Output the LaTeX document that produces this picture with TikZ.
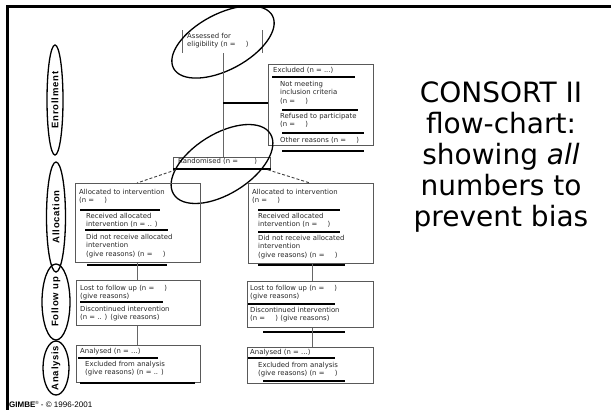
\documentclass[tikz,border=0pt]{standalone}
\usepackage{fontspec}
\usetikzlibrary{shapes.geometric}
\setmainfont{DejaVu Sans}
\newfontfamily\chartfont{DejaVu Sans}
\newfontfamily\sidefont[LetterSpace=8]{Liberation Sans}
\newfontfamily\footfont{Liberation Sans}
\newfontfamily\titlefont{DejaVu Sans}
\begin{document}
\begin{tikzpicture}[x=1pt,y=-1pt,
  frameline/.style={line width=3pt},
  box/.style={draw=black!65, line width=0.8pt, inner sep=0pt, anchor=north west},
  uline/.style={line width=1.8pt},
  conn/.style={draw=black!60, line width=0.9pt},
  dconn/.style={draw=black!75, line width=0.9pt, dashed, dash pattern=on 3pt off 2pt},
  lab/.style={font=\chartfont\fontsize{6.9}{8.4}\selectfont, anchor=north west, inner sep=0pt, align=left, text=black!85},
  sideell/.style={ellipse, draw, line width=1.3pt, inner sep=0pt},
  sidelab/.style={rotate=90, font=\sidefont\bfseries\fontsize{9.5}{9.5}\selectfont, inner sep=0pt},
  bigell/.style={ellipse, draw, line width=1.3pt, inner sep=0pt}
]
\useasboundingbox (0,0) rectangle (611,410);
% frame
\draw[frameline] (611,6.5) -- (7,6.5) -- (7,410);

% side ellipses
\node[sideell, minimum width=16pt, minimum height=110pt] (enr) at (55,100) {};
\node[sidelab] (enrt) at (enr.center) {Enrollment};
\node[sideell, minimum width=19pt, minimum height=110pt] (alo) at (56,217) {};
\node[sidelab] (alot) at (alo.center) {Allocation};
\node[sideell, minimum width=28pt, minimum height=76pt] (fol) at (56,302) {};
\node[sidelab] (folt) at (fol.center) {Follow up};
\node[sideell, minimum width=26pt, minimum height=54pt] (ana) at (56,368) {};
\node[sidelab] (anat) at (ana.center) {Analysis};

% assessed
\coordinate (assL1) at (182,30); \coordinate (assL2) at (182,53);
\coordinate (assR1) at (262,30); \coordinate (assR2) at (262,53);
\draw[conn] (assL1) -- (assL2);
\draw[conn] (assR1) -- (assR2);
\node[lab] (asst) at (187,33) {Assessed for\\eligibility (n = \hspace{8pt})};
\coordinate (assB) at (223,53);
\node[bigell, minimum width=112pt, minimum height=56pt, rotate=28] (assell) at (223,42) {};

% excluded
\node[box, minimum width=105pt, minimum height=81pt] (exc) at (268,64) {};
\node[lab] (exc1) at (273,67) {Excluded (n = ...)};
\draw[uline] (272,77) -- (355,77);
\node[lab] (exc2) at (280,81) {Not meeting\\inclusion criteria\\(n = \hspace{8pt})};
\draw[uline] (282,110) -- (358,110);
\node[lab] (exc3) at (280,113) {Refused to participate\\(n = \hspace{8pt})};
\draw[uline] (282,133) -- (364,133);
\node[lab] (exc4) at (280,137) {Other reasons (n = \hspace{8pt})};
\draw[uline] (282,151) -- (364,151);

% randomised
\node[box, minimum width=97pt, minimum height=11pt] (rand) at (173,157) {};
\node[lab] (randt) at (178,158.5) {Randomised (n = \hspace{14pt})};
\draw[uline] (rand.south west) -- (rand.south east);
\node[bigell, minimum width=114pt, minimum height=60pt, rotate=32] (randell) at (222,164) {};

\coordinate (junc) at (223,103);
\draw[conn] (assB) -- (rand.north -| assB);
\draw[line width=1.8pt] (junc) -- (exc.west |- junc);

% left allocation
\node[box, minimum width=125pt, minimum height=79pt] (la) at (75,183) {};
\node[lab] (la1) at (79,189) {Allocated to intervention\\(n = \hspace{8pt})};
\draw[uline] (80,210) -- (160,210);
\node[lab] (la2) at (86,213) {Received allocated\\intervention (n = .. )};
\draw[uline] (85,230) -- (168,230);
\node[lab] (la3) at (86,234) {Did not receive allocated\\intervention\\(give reasons) (n = \hspace{8pt})};
\draw[uline] (87,265) -- (167,265);

% right allocation
\node[box, minimum width=125pt, minimum height=80pt] (ra) at (248,183) {};
\node[lab] (ra1) at (252,189) {Allocated to intervention\\(n = \hspace{8pt})};
\draw[uline] (258,210) -- (340,210);
\node[lab] (ra2) at (258,213) {Received allocated\\intervention (n = \hspace{8pt})};
\draw[uline] (258,232) -- (340,232);
\node[lab] (ra3) at (258,235) {Did not receive allocated\\intervention\\(give reasons) (n = \hspace{8pt})};
\draw[uline] (258,265) -- (345,265);

\draw[dconn] (rand.south west) ++(3,1) coordinate (rsw) (rsw) -- (la.north -| 137,0);
\draw[dconn] (rand.south east) ++(-3,1) coordinate (rse) (rse) -- (ra.north -| 310,0);

% left follow up
\node[box, minimum width=124pt, minimum height=45pt] (lf) at (76,280) {};
\node[lab] (lf1) at (80,285) {Lost to follow up (n = \hspace{8pt})\\(give reasons)};
\draw[uline] (80,302) -- (163,302);
\node[lab] (lf2) at (80,306) {Discontinued intervention\\(n = .. ) (give reasons)};

% right follow up
\node[box, minimum width=126pt, minimum height=46pt] (rf) at (247,281) {};
\node[lab] (rf1) at (250,285) {Lost to follow up (n = \hspace{8pt})\\(give reasons)};
\draw[uline] (248,304) -- (335,304);
\node[lab] (rf2) at (250,307) {Discontinued intervention\\(n = \hspace{8pt}) (give reasons)};
\draw[uline] (263,332) -- (345,332);

% left analysis
\node[box, minimum width=124pt, minimum height=37pt] (lan) at (76,345) {};
\node[lab] (lan1) at (80,348) {Analysed (n = ...)};
\draw[uline] (78,358) -- (158,358);
\node[lab] (lan2) at (85,361) {Excluded from analysis\\(give reasons) (n = .. )};
\draw[uline] (80,383) -- (195,383);

% right analysis
\node[box, minimum width=126pt, minimum height=36pt] (ran) at (247,347) {};
\node[lab] (ran1) at (250,349) {Analysed (n = ...)};
\draw[uline] (248,358) -- (335,358);
\node[lab] (ran2) at (258,362) {Excluded from analysis\\(give reasons) (n = \hspace{8pt})};
\draw[uline] (263,381) -- (345,381);

% vertical connectors
\draw[conn] (la.south -| 137,0) -- (lf.north -| 137,0);
\draw[conn] (lf.south -| 137,0) -- (lan.north -| 137,0);
\draw[conn] (ra.south -| 312,0) -- (rf.north -| 312,0);
\draw[conn] (rf.south -| 312,0) -- (ran.north -| 312,0);

% title
\node[font=\titlefont\fontsize{28}{31}\selectfont, align=center, inner sep=0pt] (title) at (501,157)
  {CONSORT II\\flow-chart:\\showing \textit{all}\\numbers to\\prevent bias};

% footer
\node[font=\footfont\fontsize{8}{9}\selectfont, anchor=west, inner sep=0pt] (foot) at (9,404.5)
  {\textbf{GIMBE}\raisebox{2.5pt}{\fontsize{4.5}{4.5}\selectfont ®} - © 1996-2001};
\end{tikzpicture}
\end{document}
